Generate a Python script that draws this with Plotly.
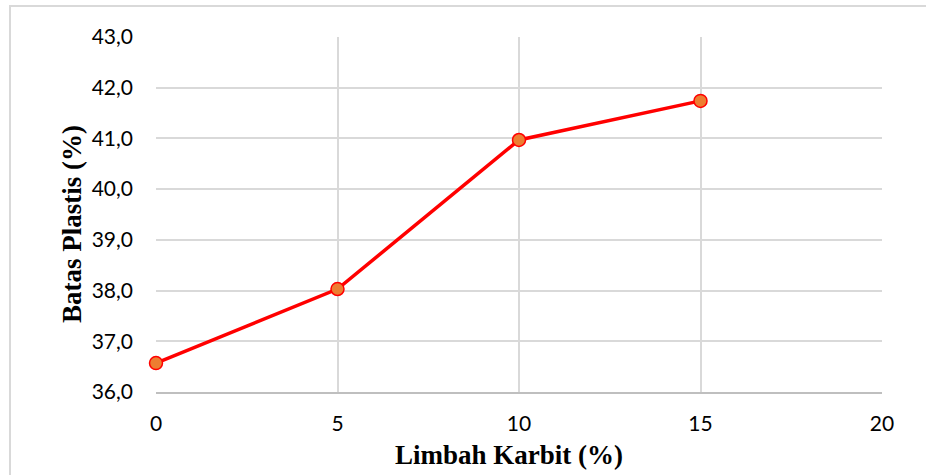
import plotly.graph_objects as go

# Plastic limit versus carbide waste content
limbah_karbit = [0, 5, 10, 15]
batas_plastis = [36.57, 38.03, 40.97, 41.74]

x_ticks = [0, 5, 10, 15, 20]
y_ticks = [36, 37, 38, 39, 40, 41, 42, 43]

W, H = 926, 475
L, R, T, B = 156, 44, 37, 83
pw, ph = W - L - R, H - T - B

fig = go.Figure()
fig.add_trace(go.Scatter(
    x=limbah_karbit, y=batas_plastis,
    mode="lines+markers",
    line=dict(color="#FF0000", width=3.5),
    marker=dict(size=13, color="#ED7D31", line=dict(color="#FF0000", width=1.5)),
    cliponaxis=False,
    showlegend=False,
))

tick_font = dict(family="Lato, Open Sans, sans-serif", size=21, color="#000000")
title_font = dict(family="Liberation Serif, Times New Roman, serif", size=27, color="#000000")

fig.update_xaxes(
    range=[0, 20], tickvals=x_ticks, showgrid=True, gridcolor="#D9D9D9", gridwidth=1.5,
    showline=True, linecolor="#BFBFBF", linewidth=2, zeroline=False,
    ticks="", ticklabelstandoff=12, tickfont=tick_font,
)
fig.update_yaxes(
    range=[36, 43], tickvals=y_ticks, tickformat=".1f",
    showgrid=True, gridcolor="#D9D9D9", gridwidth=1.5,
    showline=False, zeroline=False,
    ticks="", ticklabelstandoff=22, tickfont=tick_font,
)

# axis titles
fig.add_annotation(
    text="<b>Limbah Karbit (%)</b>", font=title_font, showarrow=False,
    xref="paper", yref="paper", x=(509 - L) / pw, y=(ph + T - 455) / ph,
    xanchor="center", yanchor="middle",
)
fig.add_annotation(
    text="<b>Batas Plastis (%)</b>", font=title_font, showarrow=False, textangle=-90,
    xref="paper", yref="paper", x=(72 - L) / pw, y=(ph + T - 224) / ph,
    xanchor="center", yanchor="middle",
)

# outer chart frame
fig.add_shape(
    type="rect", xref="paper", yref="paper",
    x0=(10 - L) / pw, x1=(W + 10 - L) / pw,
    y0=(ph + T - (H + 10)) / ph, y1=(ph + T - 6) / ph,
    line=dict(color="#D9D9D9", width=2), fillcolor="rgba(0,0,0,0)", layer="below",
)

fig.update_layout(
    width=W, height=H,
    margin=dict(l=L, r=R, t=T, b=B),
    paper_bgcolor="#FFFFFF", plot_bgcolor="#FFFFFF",
    separators=",.",
)

fig.write_html("out.html")
